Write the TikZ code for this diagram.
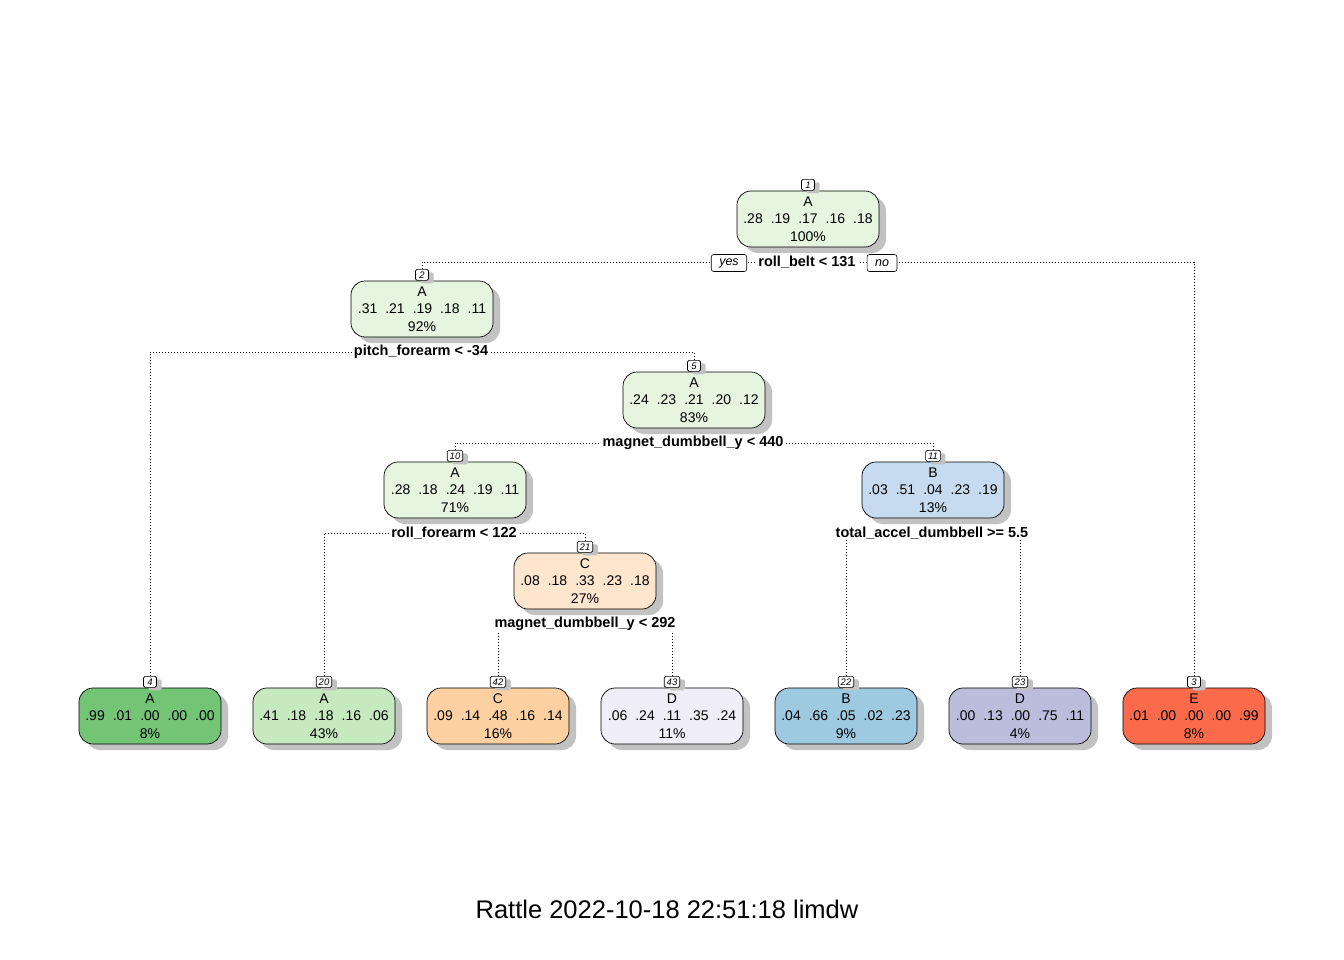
\documentclass[tikz,border=0pt]{standalone}
\usepackage{fontspec}
\setmainfont{Liberation Sans}
\usetikzlibrary{shadows,backgrounds}
\definecolor{cA}{HTML}{E5F5E0}
\definecolor{cAd}{HTML}{74C476}
\definecolor{cAm}{HTML}{C7E9C0}
\definecolor{cC}{HTML}{FEE6CE}
\definecolor{cCm}{HTML}{FDD0A2}
\definecolor{cD}{HTML}{EFEDF5}
\definecolor{cB}{HTML}{C6DBEF}
\definecolor{cBm}{HTML}{9ECAE1}
\definecolor{cDm}{HTML}{BCBDDC}
\definecolor{cE}{HTML}{FB6A4A}
\newcommand\fivevals[5]{#1\hspace{8pt}#2\hspace{8pt}#3\hspace{8pt}#4\hspace{8pt}#5}
\begin{document}
\begin{tikzpicture}[x=1pt,y=-1pt,
  tbox/.style={draw=black, line width=0.7pt, rounded corners=14pt, minimum width=142pt, minimum height=56pt, inner sep=0pt, align=center, font=\fontsize{14}{17.5}\selectfont, drop shadow={shadow xshift=7pt, shadow yshift=-6pt, fill=black!24, opacity=1}},
  numbox/.style={draw=black, fill=white, line width=0.6pt, rounded corners=1.5pt, minimum width=13pt, minimum height=11pt, inner xsep=2.5pt, inner ysep=0pt, font=\fontsize{9.5}{10}\itshape\selectfont, drop shadow={shadow xshift=5pt, shadow yshift=-3pt, fill=black!24, opacity=1}},
  splitlab/.style={fill=white, inner xsep=2pt, inner ysep=1pt, font=\fontsize{14.5}{16}\bfseries\selectfont},
  yn/.style={draw=black, fill=white, line width=0.6pt, rounded corners=2.5pt, minimum height=17pt, inner xsep=8pt, inner ysep=0pt, font=\fontsize{12.5}{13}\itshape\selectfont},
  branch/.style={line width=0.8pt, dash pattern=on 0.8pt off 2.2pt}]
\useasboundingbox (0,0) rectangle (1344,960);

% internal nodes
\node[tbox, fill=cA] (n1) at (808,219) {A\\\fivevals{.28}{.19}{.17}{.16}{.18}\\100\%};
\node[numbox, anchor=south] (l1) at (n1.north) {1};
\node[tbox, fill=cA] (n2) at (422,309) {A\\\fivevals{.31}{.21}{.19}{.18}{.11}\\92\%};
\node[numbox, anchor=south] (l2) at (n2.north) {2};
\node[tbox, fill=cA] (n5) at (694,400) {A\\\fivevals{.24}{.23}{.21}{.20}{.12}\\83\%};
\node[numbox, anchor=south] (l5) at (n5.north) {5};
\node[tbox, fill=cA] (n10) at (455,490) {A\\\fivevals{.28}{.18}{.24}{.19}{.11}\\71\%};
\node[numbox, anchor=south] (l10) at (n10.north) {10};
\node[tbox, fill=cB] (n11) at (933,490) {B\\\fivevals{.03}{.51}{.04}{.23}{.19}\\13\%};
\node[numbox, anchor=south] (l11) at (n11.north) {11};
\node[tbox, fill=cC] (n21) at (585,581) {C\\\fivevals{.08}{.18}{.33}{.23}{.18}\\27\%};
\node[numbox, anchor=south] (l21) at (n21.north) {21};

% leaves
\node[tbox, fill=cAd] (n4) at (150,716) {A\\\fivevals{.99}{.01}{.00}{.00}{.00}\\8\%};
\node[numbox, anchor=south] (l4) at (n4.north) {4};
\node[tbox, fill=cAm] (n20) at (324,716) {A\\\fivevals{.41}{.18}{.18}{.16}{.06}\\43\%};
\node[numbox, anchor=south] (l20) at (n20.north) {20};
\node[tbox, fill=cCm] (n42) at (498,716) {C\\\fivevals{.09}{.14}{.48}{.16}{.14}\\16\%};
\node[numbox, anchor=south] (l42) at (n42.north) {42};
\node[tbox, fill=cD] (n43) at (672,716) {D\\\fivevals{.06}{.24}{.11}{.35}{.24}\\11\%};
\node[numbox, anchor=south] (l43) at (n43.north) {43};
\node[tbox, fill=cBm] (n22) at (846,716) {B\\\fivevals{.04}{.66}{.05}{.02}{.23}\\9\%};
\node[numbox, anchor=south] (l22) at (n22.north) {22};
\node[tbox, fill=cDm] (n23) at (1020,716) {D\\\fivevals{.00}{.13}{.00}{.75}{.11}\\4\%};
\node[numbox, anchor=south] (l23) at (n23.north) {23};
\node[tbox, fill=cE] (n3) at (1194,716) {E\\\fivevals{.01}{.00}{.00}{.00}{.99}\\8\%};
\node[numbox, anchor=south] (l3) at (n3.north) {3};

% split labels
\node[splitlab] (s1) at (807,262) {roll\_belt < 131};
\node[yn] (yes) at (729,263) {yes};
\node[yn] (no) at (882,263) {no};
\node[splitlab] (s2) at (421,352) {pitch\_forearm < -34};
\node[splitlab] (s5) at (693,443) {magnet\_dumbbell\_y < 440};
\node[splitlab] (s10) at (454,533) {roll\_forearm < 122};
\node[splitlab] (s11) at (932,533) {total\_accel\_dumbbell >= 5.5};
\node[splitlab] (s21) at (585,624) {magnet\_dumbbell\_y < 292};

% branches
\begin{scope}[on background layer]
\draw[branch] (l2.north) |- (s1.center);
\draw[branch] (l3.north) |- (s1.center);
\draw[branch] (l4.north) |- (s2.center);
\draw[branch] (l5.north) |- (s2.center);
\draw[branch] (l10.north) |- (s5.center);
\draw[branch] (l11.north) |- (s5.center);
\draw[branch] (l20.north) |- (s10.center);
\draw[branch] (l21.north) |- (s10.center);
\draw[branch] (l42.north) |- (s21.center);
\draw[branch] (l43.north) |- (s21.center);
\draw[branch] (l22.north) |- (s11.center);
\draw[branch] (l23.north) |- (s11.center);
\end{scope}

\node[font=\fontsize{25.5}{28}\selectfont] (title) at (667,909) {Rattle 2022-10-18 22:51:18 limdw};
\end{tikzpicture}
\end{document}
